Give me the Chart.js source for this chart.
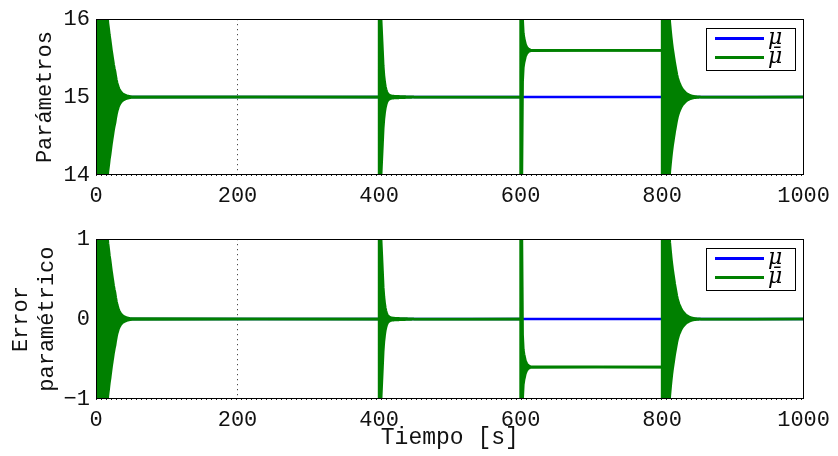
<!DOCTYPE html>
<html>
<head>
<meta charset="utf-8">
<script src="https://cdn.jsdelivr.net/npm/chart.js@4/dist/chart.umd.min.js"></script>
<style>
  body { margin: 0; background: #fff; }
  canvas { position: absolute; left: 0; }
</style>
</head>
<body>
<canvas id="graficoParametros" width="838" height="220" style="top:0"></canvas>
<canvas id="graficoError" width="838" height="236" style="top:220px"></canvas>
<script>
// Datos
const tiempoLimites = [0, 1000];
const muReal = [15, 15];                 // μ constante
const inicioRafagas = [0, 400, 600, 800]; // instantes de cada transitorio [s]
const nivelRafagas = [15, 15, 15.6, 15];  // valor al que converge μ̄ tras cada transitorio

// Amplitud (envolvente) de la oscilación de μ̄, cada 1 s desde el inicio del transitorio
const amplitud0 = [1.4, 1.4, 1.4, 1.4, 1.4, 1.4, 1.4, 1.4, 1.4, 1.4,
  1.4, 1.4, 1.4, 1.4, 1.4, 1.3, 1.05, 0.95, 0.88, 0.8,
  0.74, 0.67, 0.6, 0.54, 0.48, 0.42, 0.37, 0.33, 0.27, 0.22,
  0.18, 0.15, 0.12, 0.1, 0.085, 0.07, 0.06, 0.05, 0.043, 0.037,
  0.032, 0.028, 0.024, 0.02, 0.017, 0.015, 0.013, 0.011, 0.009, 0.008, 0.006];
const amplitud400 = [1.4, 1.4, 1.3, 1.0, 0.8, 0.6, 0.4, 0.28, 0.2, 0.14,
  0.1, 0.07, 0.05, 0.04, 0.03, 0.025, 0.02, 0.018, 0.016, 0.015,
  0.014, 0.013, 0.012, 0.012, 0.011, 0.011, 0.01, 0.01, 0.01, 0.009,
  0.009, 0.009, 0.008, 0.008, 0.008, 0.007, 0.007, 0.007, 0.006, 0.006,
  0.006, 0.005, 0.005, 0.005, 0.004, 0.004, 0.004, 0.003, 0.003, 0.003, 0.002];
const amplitud600 = [1.7, 1.7, 1.6, 0.4, 0.22, 0.16, 0.12, 0.08, 0.06, 0.04,
  0.03, 0.02, 0.015, 0.01, 0.006];
const amplitud800 = [1.4, 1.4, 1.4, 1.4, 1.4, 1.4, 1.4, 1.4, 1.4, 1.4,
  1.1, 0.96, 0.86, 0.77, 0.69, 0.62, 0.56, 0.5, 0.44, 0.39,
  0.34, 0.29, 0.25, 0.22, 0.19, 0.17, 0.15, 0.13, 0.115, 0.1,
  0.09, 0.08, 0.07, 0.06, 0.052, 0.045, 0.04, 0.035, 0.03, 0.026,
  0.022, 0.019, 0.016, 0.014, 0.012, 0.01, 0.009, 0.008, 0.007, 0.006,
  0.005, 0.004, 0.004, 0.003, 0.003, 0.002];
const amplitudes = [amplitud0, amplitud400, amplitud600, amplitud800];

const ticksTiempo = [0, 200, 400, 600, 800, 1000];
const ticksParametros = [14, 15, 16];
const ticksError = [-1, 0, 1];
const etiquetas = ["\u03BC", "\u03BC\u0304"];
const colores = ["#0000ff", "#008000"];

const fuente = '"Liberation Mono", "Courier New", monospace';

// Envolvente superior (signo 1) o inferior (signo -1) de μ̄
function envolvente(signo) {
    const puntos = [];
    inicioRafagas.forEach(function (t0, i) {
        const nivel = nivelRafagas[i];
        amplitudes[i].forEach(function (a, k) {
            puntos.push({ x: t0 + k, y: nivel + signo * a });
        });
        const fin = i + 1 < inicioRafagas.length ? inicioRafagas[i + 1] : tiempoLimites[1];
        puntos.push({ x: fin, y: nivel });
    });
    return puntos;
}

const muBarraSup = envolvente(1);
const muBarraInf = envolvente(-1);
const muPuntos = tiempoLimites.map((t, i) => ({ x: t, y: muReal[i] }));
// Error paramétrico = μ - μ̄
const errorMu = tiempoLimites.map((t, i) => ({ x: t, y: muReal[i] - 15 }));
const errorSup = muBarraInf.map(p => ({ x: p.x, y: 15 - p.y }));
const errorInf = muBarraSup.map(p => ({ x: p.x, y: 15 - p.y }));

// Caja de ejes y leyenda
const cajaYLeyenda = {
    id: "cajaYLeyenda",
    afterDraw(chart) {
        const ctx = chart.ctx;
        const a = chart.chartArea;
        ctx.save();
        ctx.strokeStyle = "#000";
        ctx.lineWidth = 1;
        ctx.strokeRect(Math.round(a.left) + 0.5, Math.round(a.top) + 0.5,
            Math.round(a.width) - 1, Math.round(a.height) - 1);

        const x0 = Math.round(a.right) - 98;
        const y0 = Math.round(a.top) + 9;
        ctx.fillStyle = "#fff";
        ctx.fillRect(x0, y0, 89, 42);
        ctx.strokeRect(x0 + 0.5, y0 + 0.5, 89, 42);
        etiquetas.forEach(function (txt, i) {
            const y = y0 + 10.5 + i * 19;
            ctx.strokeStyle = colores[i];
            ctx.lineWidth = 3;
            ctx.beginPath();
            ctx.moveTo(x0 + 9, y);
            ctx.lineTo(x0 + 58, y);
            ctx.stroke();
            ctx.fillStyle = "#000";
            ctx.font = 'italic 22px "DejaVu Serif"';
            ctx.textBaseline = "middle";
            ctx.fillText(txt, x0 + 62, y);
        });
        ctx.restore();
    }
};

function crearGrafico(id, datos, cfg) {
    // tension mínima: evita el "fast path" de Chart.js, que deja franjas en el relleno denso
    const comun = { pointRadius: 0, tension: 0.0001, clip: 0, borderWidth: 2.5 };
    return new Chart(document.getElementById(id), {
        type: "line",
        data: {
            datasets: [
                Object.assign({ data: datos[0], borderColor: colores[0], order: 2 }, comun),
                Object.assign({ data: datos[1], borderColor: colores[1], order: 0,
                    fill: "+1", backgroundColor: colores[1] }, comun),
                Object.assign({ data: datos[2], borderColor: colores[1], order: 1 }, comun)
            ]
        },
        options: {
            responsive: false,
            animation: false,
            events: [],
            devicePixelRatio: 1,
            layout: { padding: { top: cfg.arriba, right: 31, left: 0, bottom: 0 } },
            plugins: { legend: { display: false }, tooltip: { enabled: false } },
            scales: {
                x: {
                    type: "linear",
                    min: tiempoLimites[0],
                    max: tiempoLimites[1],
                    afterBuildTicks: s => { s.ticks = ticksTiempo.map(v => ({ value: v })); },
                    afterFit: s => { s.height = cfg.altoX; },
                    grid: { color: "#222", lineWidth: 1, drawTicks: false },
                    border: { display: false, dash: [1, 4] },
                    ticks: {
                        color: "#111", padding: 8, maxRotation: 0,
                        font: { family: fuente, size: 22 },
                        callback: v => String(v)
                    },
                    title: {
                        display: !!cfg.tituloX,
                        text: cfg.tituloX || "",
                        color: "#111",
                        font: { family: fuente, size: 23 },
                        padding: { top: 0, bottom: 4 }
                    }
                },
                y: {
                    min: cfg.ticksY[0],
                    max: cfg.ticksY[cfg.ticksY.length - 1],
                    afterBuildTicks: s => { s.ticks = cfg.ticksY.map(v => ({ value: v })); },
                    afterFit: s => { s.width = 96; },
                    grid: { color: "#222", lineWidth: 1, drawTicks: false },
                    border: { display: false, dash: [1, 4] },
                    ticks: {
                        color: "#111",
                        padding: 6,
                        font: { family: fuente, size: 22 },
                        callback: v => (v < 0 ? "\u2212" + Math.abs(v) : String(v))
                    },
                    title: {
                        display: true,
                        text: cfg.tituloY,
                        color: "#111",
                        font: { family: fuente, size: 22 },
                        padding: { top: cfg.margenTituloY, bottom: 0 }
                    }
                }
            }
        },
        plugins: [cajaYLeyenda]
    });
}

crearGrafico("graficoParametros", [muPuntos, muBarraSup, muBarraInf], {
    arriba: 14, altoX: 45, ticksY: ticksParametros,
    tituloY: "Parámetros", margenTituloY: 32
});
crearGrafico("graficoError", [errorMu, errorSup, errorInf], {
    arriba: 18, altoX: 57, ticksY: ticksError,
    tituloY: ["Error", "paramétrico"], margenTituloY: 8, tituloX: "Tiempo [s]"
});
</script>
</body>
</html>
